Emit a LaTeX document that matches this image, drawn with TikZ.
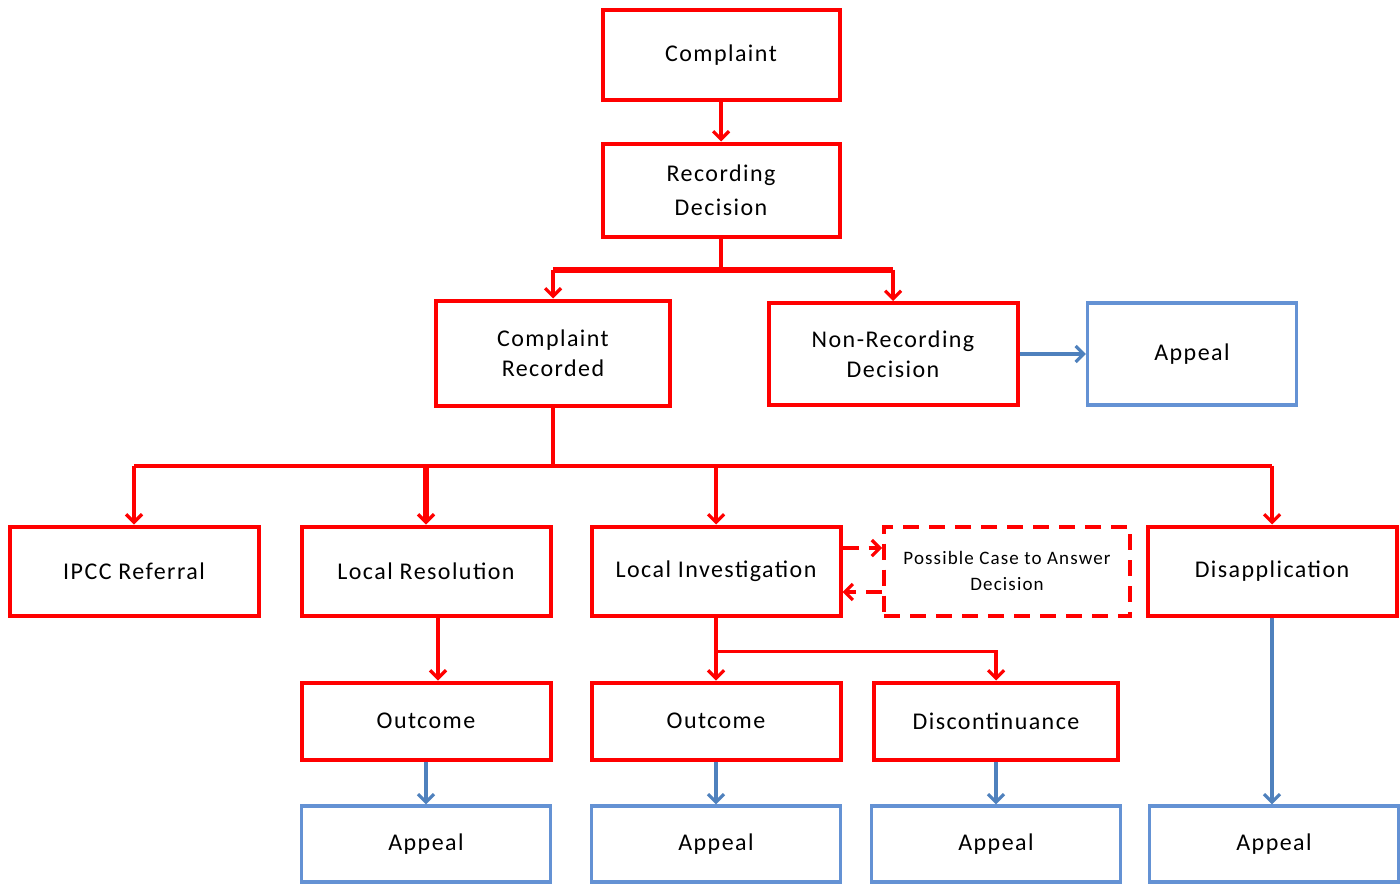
\documentclass[tikz,border=0pt]{standalone}
\usepackage{fontspec}
\setmainfont{Carlito}[LetterSpace=6]
\usetikzlibrary{arrows.meta}
\definecolor{cmpred}{RGB}{255,0,0}
\definecolor{cmpblue}{RGB}{79,129,189}
\definecolor{cmpbluebox}{RGB}{100,146,212}

\tikzset{cmpbox/.style={draw=cmpred,line width=2pt,align=center,inner sep=2pt,
                        font=\fontsize{12}{15}\selectfont},
         cmpapp/.style={cmpbox,draw=cmpbluebox,line width=1.6pt},
         cmparr/.style={draw=cmpred,line width=1.6pt,-{Straight Barb[length=4pt,width=8pt,line width=1.6pt]}},
         cmpblarr/.style={cmparr,draw=cmpblue},
         cmpdash/.style={dash pattern=on 8pt off 5pt}}

\begin{document}
\begin{tikzpicture}[x=0.5pt,y=-0.5pt]
  \useasboundingbox (0,0) rectangle (1400,884);
  % top of the chart
  \node[cmpbox,minimum width=118.5pt,minimum height=45pt] (cmp) at (721,55) {Complaint};
  \node[cmpbox,minimum width=118.5pt,minimum height=46.5pt] (rec) at (721,190) {Recording\\[2pt]Decision};
  \node[cmpbox,minimum width=117pt,minimum height=52.5pt] (crd) at (553,353) {Complaint\\Recorded};
  \node[cmpbox,minimum width=124.5pt,minimum height=51pt] (nrd) at (893,354) {Non-Recording\\Decision};
  \node[cmpapp,minimum width=104.5pt,minimum height=51pt] (apn) at (1192,354) {Appeal};
  % second row
  \foreach \x/\n/\l in {134/ipcc/IPCC Referral,426/lres/Local Resolution,716/linv/Local Investigation,1272/dis/Disapplication}
     {\node[cmpbox,minimum width=124.5pt,minimum height=44.5pt] (\n) at (\x,571) {\l};}
  \node[cmpbox,cmpdash,minimum width=123pt,minimum height=44.5pt,font=\fontsize{9.5}{13}\selectfont] (pcd) at (1007,571) {Possible Case to Answer\\Decision};
  % outcomes and appeals
  \node[cmpbox,minimum width=124.5pt,minimum height=38.5pt] (oc1) at (426,721) {Outcome};
  \node[cmpbox,minimum width=124.5pt,minimum height=38.5pt] (oc2) at (716,721) {Outcome};
  \node[cmpbox,minimum width=122pt,minimum height=38.5pt] (dsc) at (996,721) {Discontinuance};
  \foreach \x/\n in {426/ap1,716/ap2,996/ap3,1274/ap4}
     {\node[cmpapp,minimum width=124.5pt,minimum height=38pt] (\n) at (\x,844) {Appeal};}

  % connectors
  \draw[cmparr] (cmp.south) -- (rec.north);
  \draw[draw=cmpred,line width=2pt] (rec.south) -- ++(0,31) coordinate (recj);
  \draw[draw=cmpred,line width=3pt] (recj -| crd) -- (recj -| nrd);
  \draw[cmparr] (recj -| crd) -- (crd.north);
  \draw[cmparr] (recj -| nrd) -- (nrd.north);
  \draw[cmpblarr] (nrd.east) -- (apn.west);
  \draw[draw=cmpred,line width=2pt] (crd.south) -- ++(0,58) coordinate (crdj);
  \draw[draw=cmpred,line width=2pt] (crdj -| ipcc) -- (crdj -| dis);
  \foreach \n in {ipcc,linv,dis}
     \draw[cmparr] (crdj -| \n) -- (\n.north);
  \draw[cmparr,line width=2.6pt] (crdj -| lres) -- (lres.north);
  \draw[cmparr,cmpdash] ([yshift=11.5pt]linv.east) -- ([yshift=11.5pt]pcd.west);
  \draw[cmparr,cmpdash] ([yshift=-10.5pt]pcd.west) -- ([yshift=-10.5pt]linv.east);
  \draw[cmparr] ([xshift=6pt]lres.south) -- ([xshift=6pt]oc1.north);
  \draw[cmparr] (linv.south) -- (oc2.north);
  \draw[cmparr] ([yshift=-17pt]linv.south) -| (dsc.north);
  \draw[cmpblarr,line width=2.4pt] (oc1.south) -- (oc1.south |- ap1.north);
  \foreach \a/\b in {oc2/ap2,dsc/ap3,dis/ap4}
     \draw[cmpblarr] (\a.south) -- (\a.south |- \b.north);
\end{tikzpicture}
\end{document}
